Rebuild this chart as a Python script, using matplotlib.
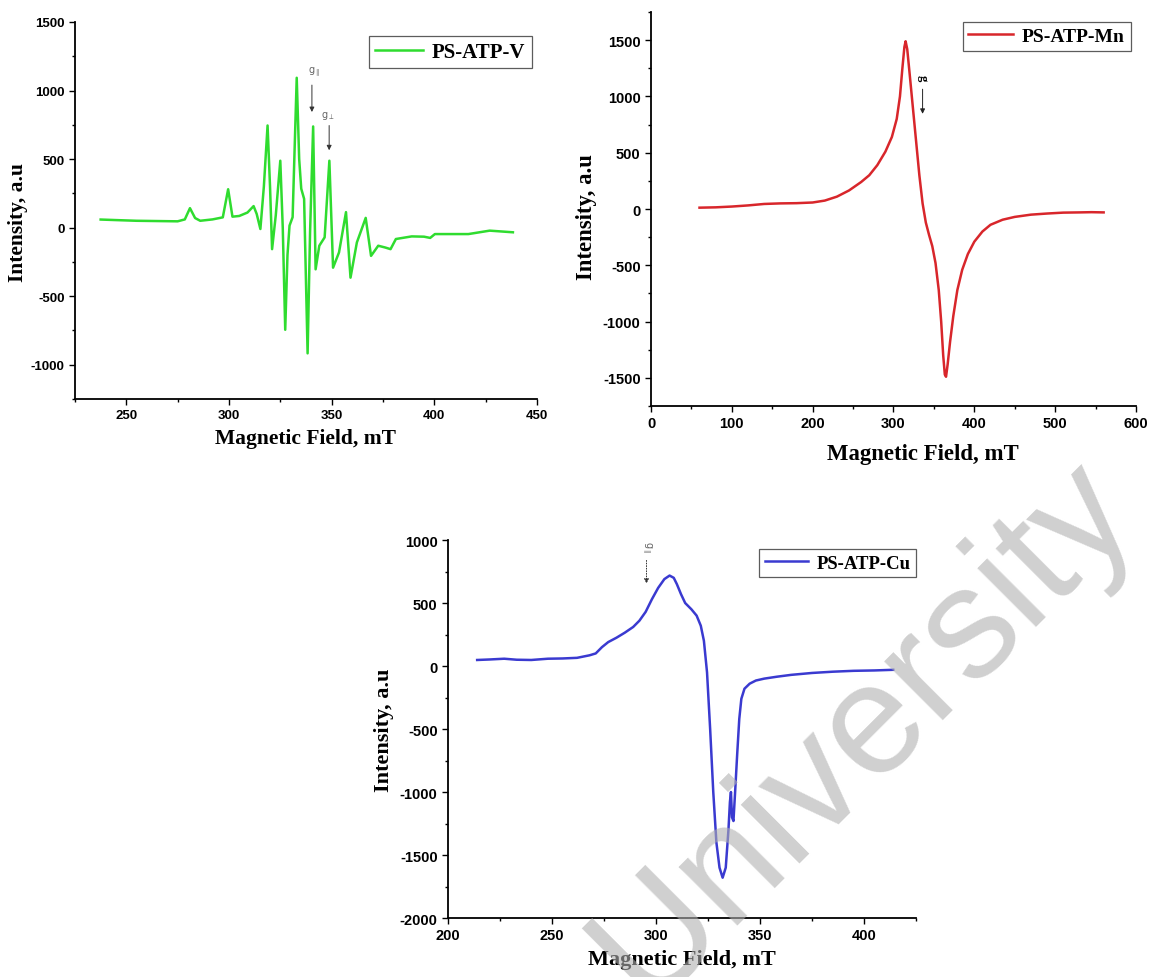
import numpy as np
import matplotlib.pyplot as plt
from matplotlib.ticker import MultipleLocator

plt.rcParams['axes.unicode_minus'] = False

# PS-ATP-V spectrum (field in mT, intensity in a.u.)
v_field = [237.5, 245, 255, 265, 275, 278.5, 281, 283.5, 286, 292, 297, 299.6, 301.7, 305, 309, 312,
           313.5, 315.3, 317, 318.8, 320, 321, 322.8, 325, 326.2, 327.4, 328.5, 329.5, 331, 333, 334.2,
           335.2, 336.6, 338.3, 339.5, 341, 342.2, 344, 346.6, 348.9, 350.7, 353.6, 357, 359.2, 362.3,
           366.6, 369.2, 372.7, 376.1, 378.7, 381.3, 389, 395, 398, 400.3, 408, 416.6, 427, 438.3]
v_int = [59, 55, 50, 48, 46, 60, 142, 70, 50, 60, 75, 280, 80, 85, 110, 157,
         100, -10, 300, 745, 300, -157, 90, 488, 0, -745, -200, 15, 76, 1093, 500,
         284, 210, -917, -34, 738, -304, -132, -71, 488, -292, -181, 113, -365, -108,
         71, -206, -132, -145, -157, -83, -64, -66, -75, -47, -47, -47, -22, -34]

# PS-ATP-Mn spectrum
mn_field = [60, 80, 100, 120, 140, 160, 180, 200, 215, 230, 245, 260, 270, 280, 290, 298, 304, 308,
            311, 313.5, 315, 317, 320, 324, 328, 332, 336, 340, 344, 348, 352, 356, 359, 361.5, 363.5,
            365, 367, 370, 374, 379, 385, 392, 400, 410, 420, 435, 450, 470, 490, 510, 530, 545, 560]
mn_int = [12, 15, 22, 32, 45, 50, 52, 58, 75, 110, 165, 240, 300, 390, 510, 640, 800, 1000,
          1250, 1440, 1490, 1420, 1200, 900, 600, 300, 50, -120, -230, -330, -480, -720, -1000, -1300, -1470,
          -1490, -1380, -1180, -950, -720, -540, -400, -290, -200, -140, -95, -70, -50, -40, -32, -30, -28, -30]

# PS-ATP-Cu spectrum
cu_field = [214, 220, 227, 233, 240, 248, 255, 262, 268, 271, 274, 277, 281, 285, 289, 292, 295, 298,
            301, 304, 306.5, 308.5, 310, 312, 314, 317, 319.5, 321.5, 323, 324.5, 326, 327.5, 329, 330.5,
            332, 333.5, 334.8, 335.5, 336, 336.5, 337.2, 338, 339, 340, 341, 342.5, 345, 348, 352, 358,
            365, 375, 385, 395, 405, 414]
cu_int = [48, 52, 58, 50, 48, 58, 60, 65, 85, 100, 150, 190, 225, 265, 310, 360, 430, 530,
          620, 690, 718, 700, 650, 570, 500, 450, 400, 320, 200, -50, -500, -1000, -1400, -1600,
          -1680, -1600, -1300, -1080, -1000, -1200, -1230, -1000, -700, -420, -260, -180, -140, -115, -100, -85,
          -70, -55, -45, -38, -35, -30]

serif = 'Liberation Serif'
sans = 'Liberation Sans'


def style_axes(ax, xlim, ylim, xmaj, xmin, ymaj, ymin, tsize, lsize, xpad, ypad, ly):
    ax.set_xlim(*xlim)
    ax.set_ylim(*ylim)
    ax.xaxis.set_major_locator(MultipleLocator(xmaj))
    ax.xaxis.set_minor_locator(MultipleLocator(xmin))
    ax.yaxis.set_major_locator(MultipleLocator(ymaj))
    ax.yaxis.set_minor_locator(MultipleLocator(ymin))
    for s in ['top', 'right']:
        ax.spines[s].set_visible(False)
    for s in ['left', 'bottom']:
        ax.spines[s].set_linewidth(1.3)
    ax.tick_params(which='major', direction='out', length=4, width=1, labelsize=tsize)
    ax.tick_params(which='minor', direction='out', length=2.5, width=1)
    for lab in ax.get_xticklabels() + ax.get_yticklabels():
        lab.set_fontfamily(sans)
        lab.set_fontweight('bold')
    ax.set_xlabel('Magnetic Field, mT', fontfamily=serif, fontweight='bold', fontsize=lsize, labelpad=xpad)
    ax.set_ylabel('Intensity, a.u', fontfamily=serif, fontweight='bold', fontsize=lsize, labelpad=ypad)
    ax.yaxis.label.set_y(ly)


def add_legend(ax, anchor, size):
    leg = ax.legend(loc='upper right', bbox_to_anchor=anchor, borderaxespad=0, fancybox=False,
                    prop={'family': serif, 'weight': 'bold', 'size': size}, handlelength=2.3,
                    handletextpad=0.45, borderpad=0.3)
    leg.get_frame().set_edgecolor('#333333')
    leg.get_frame().set_linewidth(0.9)


fig = plt.figure(figsize=(11.5, 9.78), dpi=100)

# top left: V
ax1 = fig.add_axes([0.0652, 0.591, 0.4017, 0.3855])
ax1.plot(v_field, v_int, color='#2fdc2f', lw=1.8, label='PS-ATP-V')
style_axes(ax1, (225, 450), (-1250, 1500), 50, 25, 500, 250, 9.5, 15.5, 5, 2, 0.47)
add_legend(ax1, (0.989, 0.963), 15)
ax1.annotate('', xy=(340.4, 823), xytext=(340.4, 1060),
             arrowprops=dict(arrowstyle='-|>', color='#333333', lw=0.7, mutation_scale=7))
ax1.text(341.5, 1135, 'g$_{\\parallel}$', fontsize=7, color='#666666', ha='center', va='center')
ax1.annotate('', xy=(348.8, 544), xytext=(348.8, 765),
             arrowprops=dict(arrowstyle='-|>', color='#333333', lw=0.7, mutation_scale=7))
ax1.text(348.2, 823, 'g$_{\\perp}$', fontsize=7, color='#666666', ha='center', va='center')

# top right: Mn
ax2 = fig.add_axes([0.5661, 0.5838, 0.4217, 0.4029])
ax2.plot(mn_field, mn_int, color='#d8262b', lw=1.8, label='PS-ATP-Mn')
style_axes(ax2, (0, 600), (-1750, 1750), 100, 50, 500, 250, 10.5, 16.4, 9, 4, 0.482)
ax2.xaxis.label.set_x(0.561)
add_legend(ax2, (0.989, 0.975), 14)
ax2.annotate('', xy=(336, 821), xytext=(336, 1089),
             arrowprops=dict(arrowstyle='-|>', color='#222222', lw=0.7, mutation_scale=7))
ax2.text(336.5, 1170, 'g', fontsize=9, fontfamily=serif, fontweight='bold', rotation=270,
         ha='center', va='center')

# bottom: Cu
ax3 = fig.add_axes([0.3896, 0.0603, 0.4070, 0.3865])
ax3.plot(cu_field, cu_int, color='#3a3ad0', lw=1.8, label='PS-ATP-Cu')
style_axes(ax3, (200, 425), (-2000, 1000), 50, 25, 500, 250, 10.5, 16, 5, 4, 0.5)
add_legend(ax3, (1.0, 0.976), 13.5)
ax3.annotate('', xy=(295.4, 632), xytext=(295.4, 860),
             arrowprops=dict(arrowstyle='-|>', color='#333333', lw=0.7, ls=':', mutation_scale=7))
ax3.text(295.4, 950, 'g$_{\\parallel}$', fontsize=7, color='#666666', rotation=270,
         ha='center', va='center')

# watermark
fig.text(0.7757, 0.2239, 'University', fontsize=114, fontfamily=sans, color='#b0b0b0', alpha=0.6,
         rotation=45, rotation_mode='anchor', ha='center', va='baseline', zorder=10)

fig.savefig('out.png', dpi=100)
